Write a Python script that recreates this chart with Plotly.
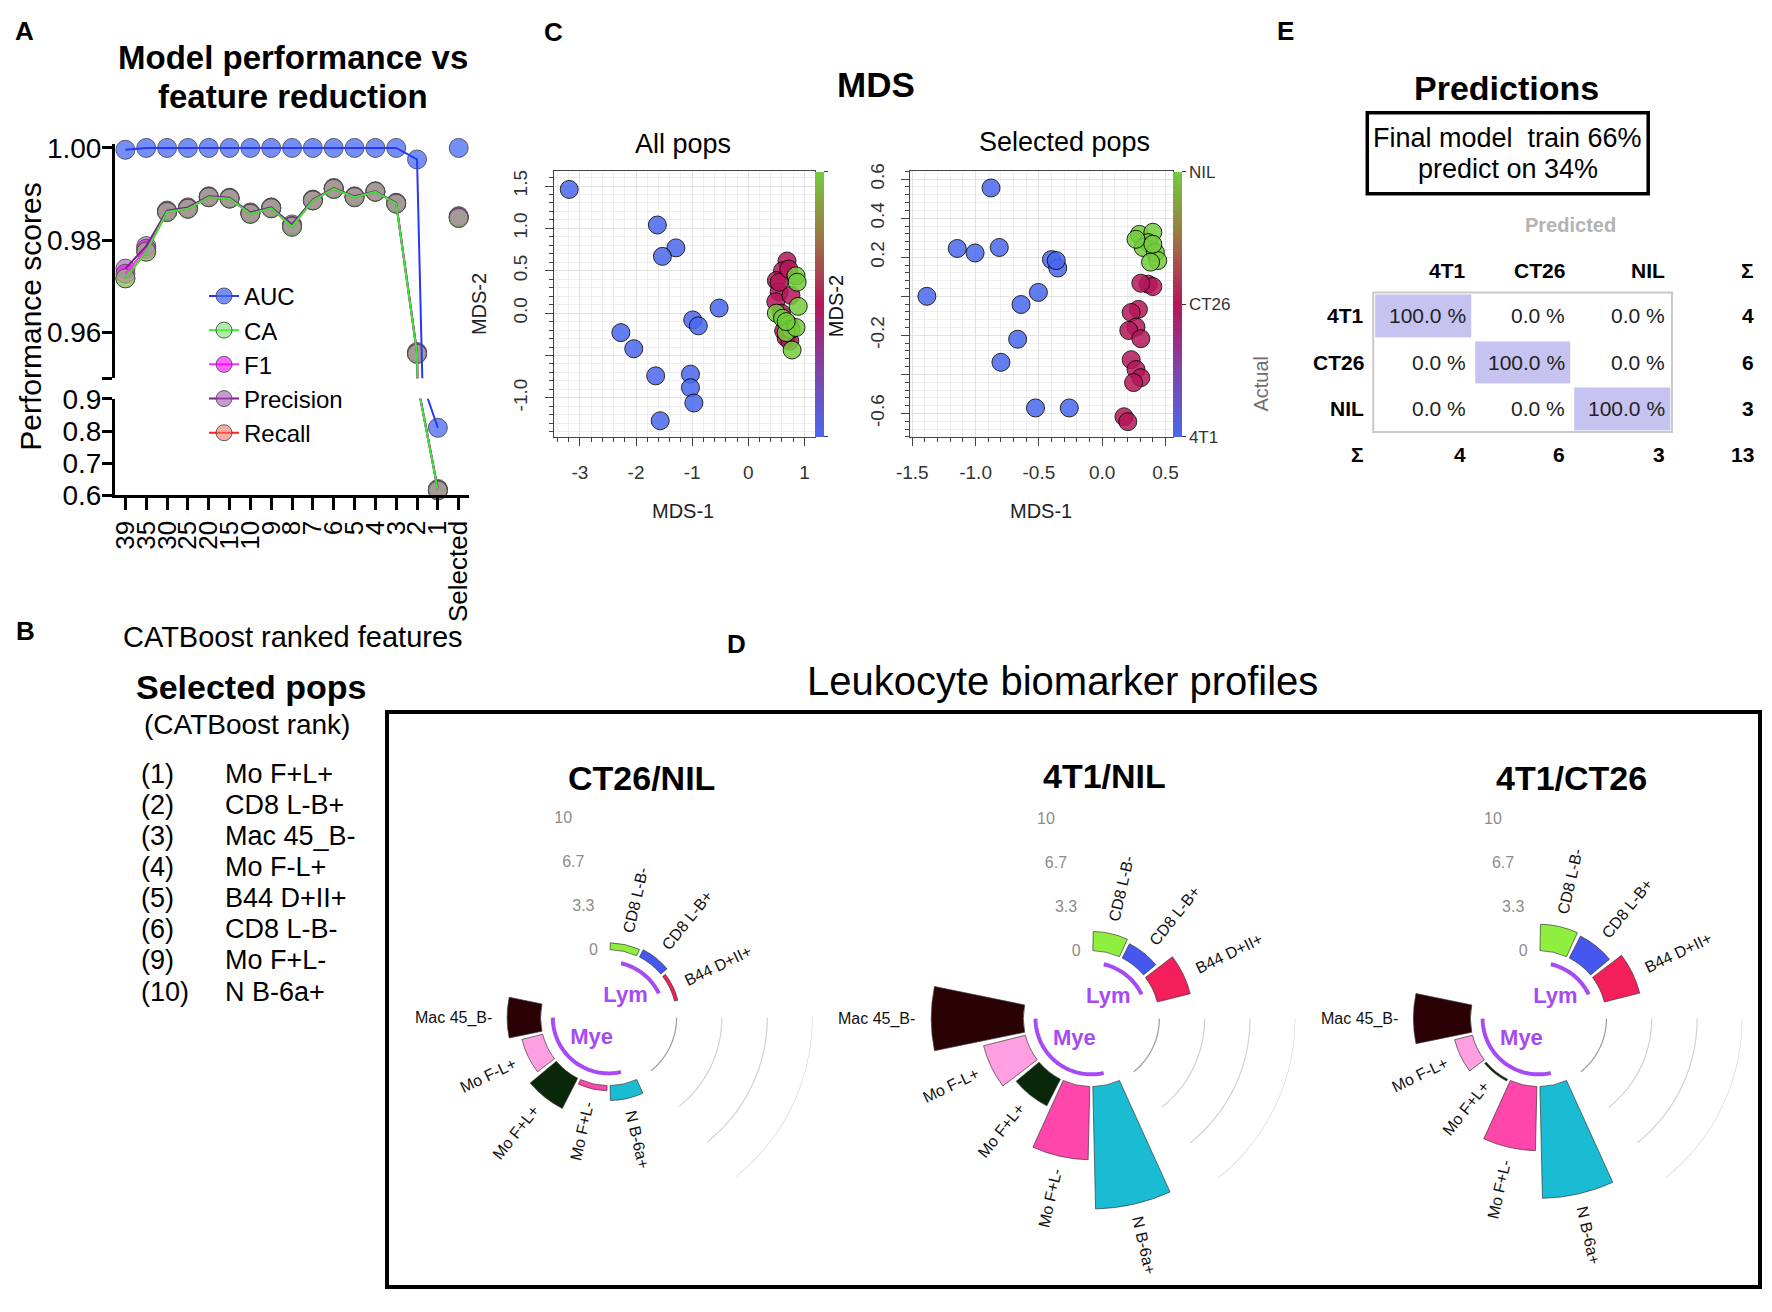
import numpy as np
import plotly.graph_objects as go

# The browser adds an 8px body margin to the 1772x1312 page, so the figure is 16px smaller
# and reference pixel coordinates are shifted by that margin.
REF_W, REF_H = 1772, 1312
OFF = 8
FW, FH = REF_W - 2 * OFF, REF_H - 2 * OFF
FONT = "Liberation Sans, Arial, Helvetica, sans-serif"


def fx(x):
    return (x - OFF) / FW


def fy(y):
    return 1 - (y - OFF) / FH


# ---------------- Panel A data ----------------
feature_counts = ["39", "35", "30", "25", "20", "15", "10", "9", "8", "7", "6", "5", "4", "3", "2", "1", "Selected"]
auc = [0.9996, 1.0, 1.0, 1.0, 1.0, 1.0, 1.0, 1.0, 1.0, 1.0, 1.0, 1.0, 1.0, 1.0, 0.9975, 0.810, 1.0]
ca = [0.9717, 0.9775, 0.9861, 0.9868, 0.9893, 0.9890, 0.9857, 0.9869, 0.9829, 0.9886, 0.9911, 0.9893, 0.9905, 0.9879, 0.9553, 0.6155, 0.9848]
f1 = [0.9727, 0.9781, 0.9862, 0.9869, 0.9894, 0.9891, 0.9858, 0.9870, 0.9831, 0.9887, 0.9912, 0.9894, 0.9905, 0.9880, 0.9555, 0.6170, 0.9850]
precision = [0.9738, 0.9787, 0.9864, 0.9871, 0.9895, 0.9892, 0.9860, 0.9871, 0.9834, 0.9888, 0.9913, 0.9895, 0.9906, 0.9881, 0.9557, 0.6200, 0.9852]
recall = [0.9717, 0.9775, 0.9861, 0.9868, 0.9893, 0.9890, 0.9857, 0.9869, 0.9829, 0.9886, 0.9911, 0.9893, 0.9905, 0.9879, 0.9553, 0.6155, 0.9848]
upper_ticks = [0.95, 0.96, 0.98, 1.00]
upper_ticklabels = ["", "0.96", "0.98", "1.00"]
lower_ticks = [0.6, 0.7, 0.8, 0.9]
lower_ticklabels = ["0.6", "0.7", "0.8", "0.9"]

# ---------------- Panel B data ----------------
catboost_ranks = ["(1)", "(2)", "(3)", "(4)", "(5)", "(6)", "(9)", "(10)"]
catboost_pops = ["Mo F+L+", "CD8 L-B+", "Mac 45_B-", "Mo F-L+", "B44 D+II+", "CD8 L-B-", "Mo F+L-", "N B-6a+"]

# ---------------- Panel C data ----------------
all_4t1_x = [-3.19, -1.62, -1.29, -1.53, -0.52, -0.99, -0.89, -2.27, -2.04, -1.65, -1.03, -1.03, -0.97, -1.57]
all_4t1_y = [1.46, 1.04, 0.77, 0.67, 0.06, -0.08, -0.15, -0.23, -0.42, -0.74, -0.72, -0.88, -1.06, -1.27]
all_ct26_x = [0.69, 0.61, 0.50, 0.55, 0.49, 0.59, 0.63, 0.675, 0.74, 0.55, 0.72, 0.76]
all_ct26_y = [0.615, 0.50, 0.385, 0.25, 0.135, 0.0, -0.21, -0.29, -0.33, 0.365, 0.52, 0.21]
all_nil_x = [0.85, 0.87, 0.89, 0.50, 0.61, 0.72, 0.76, 0.675, 0.85, 0.78, 0.675]
all_nil_y = [0.44, 0.365, 0.08, 0.0, -0.06, -0.135, -0.19, -0.23, -0.17, -0.435, -0.10]
sel_4t1_x = [-0.878, -1.145, -1.004, -0.813, -0.401, -0.351, -0.363, -1.385, -0.504, -0.641, -0.668, -0.80, -0.527, -0.26]
sel_4t1_y = [0.555, 0.245, 0.222, 0.25, 0.188, 0.145, 0.183, 0.0, 0.02, -0.042, -0.22, -0.338, -0.572, -0.572]
sel_ct26_x = [0.363, 0.40, 0.305, 0.286, 0.229, 0.267, 0.21, 0.305, 0.229, 0.267, 0.305, 0.248, 0.172, 0.202]
sel_ct26_y = [0.062, 0.05, 0.067, -0.067, -0.083, -0.158, -0.175, -0.217, -0.325, -0.375, -0.417, -0.442, -0.617, -0.642]
sel_nil_x = [0.294, 0.40, 0.363, 0.324, 0.42, 0.439, 0.382, 0.267, 0.40]
sel_nil_y = [0.317, 0.328, 0.275, 0.25, 0.225, 0.183, 0.175, 0.292, 0.267]
mds_groups = ["4T1", "CT26", "NIL"]
mds_group_level = [0.0, 0.5, 1.0]

# ---------------- Panel D data ----------------
pops = ["CD8 L-B-", "CD8 L-B+", "B44 D+II+", "N B-6a+", "Mo F+L-", "Mo F+L+", "Mo F-L+", "Mac 45_B-"]
pop_group = ["Lym", "Lym", "Lym", "Mye", "Mye", "Mye", "Mye", "Mye"]
ct26_vs_nil = [0.50, 0.60, 0.25, 1.10, 0.38, 2.50, 1.57, 2.46]
t1_vs_nil = [1.41, 1.18, 2.50, 9.00, 5.38, 2.20, 3.17, 6.77]
t1_vs_ct26 = [1.94, 1.81, 2.68, 8.22, 4.71, 0.15, 1.35, 4.19]
profile_titles = ["CT26/NIL", "4T1/NIL", "4T1/CT26"]
radial_ticks = [0, 3.33, 6.67, 10]
radial_ticklabels = ["0", "3.3", "6.7", "10"]

# ---------------- Panel E data ----------------
classes = ["4T1", "CT26", "NIL"]
conf_pct = [[100.0, 0.0, 0.0], [0.0, 100.0, 0.0], [0.0, 0.0, 100.0]]
actual_totals = [4, 6, 3]
predicted_totals = [4, 6, 3]
grand_total = 13

# ================= styles =================
metric_vals = {"AUC": auc, "CA": ca, "F1": f1, "Precision": precision, "Recall": recall}
metric_fill = {"AUC": "rgba(72,105,245,0.75)", "CA": "rgba(120,225,100,0.6)", "F1": "rgba(255,0,255,0.6)",
               "Precision": "rgba(165,85,180,0.6)", "Recall": "rgba(245,120,105,0.6)"}
metric_line = {"AUC": "#2639f5", "CA": "#3de63b", "F1": "#ff2bff", "Precision": "#7d1f8c", "Recall": "#ff2020"}
pop_colors = ["#8fef3e", "#4557ef", "#f21f5b", "#19bcd3", "#ff46aa", "#092809", "#ff9fe2", "#2a0205"]
mds_colorscale = [[0.0, "#4a68ee"], [0.25, "#7e45a8"], [0.5, "#b5175a"], [0.75, "#9c7544"], [1.0, "#74cc3c"]]
GROUP_PURPLE = "#a64bf4"

fig = go.Figure()
ann = []
shapes = []


def label(x, y, s, size, bold=False, color="black", xanchor="center", yanchor="middle", angle=0):
    ann.append(dict(x=fx(x), y=fy(y), xref="paper", yref="paper", text=f"<b>{s}</b>" if bold else s,
                    showarrow=False, font=dict(size=size, color=color, family=FONT),
                    xanchor=xanchor, yanchor=yanchor, textangle=angle))


# ================= Panel A =================
segments = [("x", "y", 0.95, 1.01), ("x2", "y2", 0.55, 0.9)]
marker_order = ["Recall", "Precision", "F1", "CA", "AUC"]
line_order = ["Recall", "F1", "Precision", "CA", "AUC"]
for xa, ya, lo, hi in segments:
    for m in marker_order:
        vals = metric_vals[m]
        xs = [c for c, v in zip(feature_counts, vals) if lo <= v <= hi]
        ys = [v for v in vals if lo <= v <= hi]
        fig.add_trace(go.Scatter(x=xs, y=ys, xaxis=xa, yaxis=ya, mode="markers", cliponaxis=False,
                                 showlegend=False, hoverinfo="skip",
                                 marker=dict(size=19, color=metric_fill[m],
                                             line=dict(color="rgba(70,70,70,0.85)", width=1))))
    for m in line_order:
        vals = metric_vals[m]
        fig.add_trace(go.Scatter(x=feature_counts[:-1], y=vals[:-1], xaxis=xa, yaxis=ya, mode="lines",
                                 showlegend=False, hoverinfo="skip",
                                 line=dict(color=metric_line[m], width=2)))
for m in ["AUC", "CA", "F1", "Precision", "Recall"]:
    fig.add_trace(go.Scatter(x=[None], y=[None], xaxis="x2", yaxis="y2", mode="lines+markers", name=m,
                             marker=dict(size=19, color=metric_fill[m], line=dict(color="rgba(70,70,70,0.85)", width=1)),
                             line=dict(color=metric_line[m], width=2)))

A_x = [fx(102), fx(460)]
up_px_per = (372 - 136) / 0.05
up_top = 1.0008
axis_common = dict(showline=True, linewidth=3, linecolor="black", ticks="outside", ticklen=10, tickwidth=3,
                   tickcolor="black", showgrid=False, zeroline=False, ticklabelstandoff=-5,
                   tickfont=dict(size=28, color="black", family=FONT))
layout_axes = {}
layout_axes["xaxis"] = dict(domain=A_x, anchor="y", type="category", categoryorder="array",
                            categoryarray=feature_counts, range=[-0.5, 16.5], visible=False)
layout_axes["yaxis"] = dict(domain=[fy(372), fy(136 - (up_top - 1.0) * up_px_per)], anchor="x",
                            range=[0.95, up_top], tickmode="array", tickvals=upper_ticks,
                            ticktext=upper_ticklabels, **axis_common)
layout_axes["xaxis2"] = dict(domain=A_x, anchor="y2", type="category", categoryorder="array",
                             categoryarray=feature_counts, range=[-0.5, 16.5], tickangle=-90,
                             tickmode="array", tickvals=feature_counts, ticktext=feature_counts,
                             **{**axis_common, "ticklen": 12, "ticklabelstandoff": 0,
                                "tickfont": dict(size=26, color="black", family=FONT)})
layout_axes["yaxis2"] = dict(domain=[fy(492), fy(393)], anchor="x2", range=[0.6, 0.9], tickmode="array",
                             tickvals=lower_ticks, ticktext=lower_ticklabels, **axis_common)

label(11, 16, "A", 26, bold=True)
label(282, 43, "Model performance vs", 33, bold=True)
label(282, 83, "feature reduction", 33, bold=True)
label(17, 309, "Performance scores", 30, angle=-90)

# ================= Panel B =================
label(12, 631, "B", 26, bold=True)
label(282, 637, "CATBoost ranked features", 29)
label(240, 688, "Selected pops", 34, bold=True)
label(235, 727, "(CATBoost rank)", 28)
for i, (rk, nm) in enumerate(zip(catboost_ranks, catboost_pops)):
    yy = 777 + i * 31.9
    label(126, yy, rk, 27, xanchor="left")
    label(211, yy, nm, 27, xanchor="left")

# ================= Panel C =================
label(545, 17, "C", 26, bold=True)
label(871, 71, "MDS", 35, bold=True)
label(676, 132, "All pops", 27)
label(1062, 130, "Selected pops", 27)


def mds_trace(xlists, ylists, xa, ya, cb):
    xs, ys, cs = [], [], []
    for xl, yl, lev in zip(xlists, ylists, mds_group_level):
        xs += xl
        ys += yl
        cs += [lev] * len(xl)
    return go.Scatter(x=xs, y=ys, xaxis=xa, yaxis=ya, mode="markers", showlegend=False, hoverinfo="skip",
                      marker=dict(size=18, color=cs, colorscale=mds_colorscale, cmin=0, cmax=1, opacity=0.85,
                                  line=dict(color="black", width=1), showscale=True, colorbar=cb))


cb_common = dict(y=fy(296), yanchor="middle", len=272 / FH, lenmode="fraction", thickness=9, xpad=0, ypad=0,
                 outlinewidth=0, ticks="outside", ticklen=4, tickcolor="#333", tickmode="array",
                 tickfont=dict(size=17, color="#333", family=FONT))
fig.add_trace(mds_trace([all_4t1_x, all_ct26_x, all_nil_x], [all_4t1_y, all_ct26_y, all_nil_y], "x3", "y3",
                        dict(x=fx(810), xanchor="left", tickvals=[0, 1], showticklabels=False, **cb_common)))
fig.add_trace(mds_trace([sel_4t1_x, sel_ct26_x, sel_nil_x], [sel_4t1_y, sel_ct26_y, sel_nil_y], "x4", "y4",
                        dict(x=fx(1172), xanchor="left", tickvals=mds_group_level, ticktext=mds_groups, **cb_common)))

mds_axis = dict(showline=True, mirror=True, linewidth=1.2, linecolor="#444", ticks="outside", ticklen=8,
                tickwidth=1, tickcolor="#444", showgrid=True, gridcolor="#e2e2e2", gridwidth=1, zeroline=False,
                tickfont=dict(size=19, color="#333", family=FONT), ticklabelstandoff=10)
minor_x = dict(ticks="outside", ticklen=4, tickcolor="#444", showgrid=True, gridcolor="#eeeeee", tick0=0)
layout_axes["xaxis3"] = dict(domain=[fx(546), fx(810)], anchor="y3", range=[-3.458, 1.194], tickmode="array",
                             tickvals=[-3, -2, -1, 0, 1], ticktext=["-3", "-2", "-1", "0", "1"],
                             minor=dict(dtick=0.2, **minor_x), **mds_axis)
layout_axes["yaxis3"] = dict(domain=[fy(432), fy(160)], anchor="x3", range=[-1.46, 1.673], tickmode="array",
                             tickvals=[-1.0, -0.5, 0.0, 0.5, 1.0, 1.5], ticktext=["-1.0", "", "0.0", "0.5", "1.0", "1.5"],
                             tickangle=-90, minor=dict(dtick=0.1, **minor_x), **mds_axis)
layout_axes["xaxis4"] = dict(domain=[fx(906), fx(1172)], anchor="y4", range=[-1.516, 0.5625], tickmode="array",
                             tickvals=[-1.5, -1.0, -0.5, 0.0, 0.5], ticktext=["-1.5", "-1.0", "-0.5", "0.0", "0.5"],
                             minor=dict(dtick=0.1, **minor_x), **mds_axis)
layout_axes["yaxis4"] = dict(domain=[fy(432), fy(160)], anchor="x4", range=[-0.72, 0.64], tickmode="array",
                             tickvals=[-0.6, -0.4, -0.2, 0.0, 0.2, 0.4, 0.6],
                             ticktext=["-0.6", "", "-0.2", "", "0.2", "0.4", "0.6"], tickangle=-90,
                             minor=dict(dtick=0.04, **minor_x), **mds_axis)
label(676, 508, "MDS-1", 20, color="#222")
label(1038, 508, "MDS-1", 20, color="#222")
label(470, 296, "MDS-2", 20, color="#222", angle=-90)
label(831, 298, "MDS-2", 20, color="#111", angle=-90)

# ================= Panel D =================
label(730, 644, "D", 26, bold=True)
label(1060, 682, "Leukocyte biomarker profiles", 40)
shapes.append(dict(type="rect", xref="paper", yref="paper", x0=fx(377), x1=fx(1765), y0=fy(1303), y1=fy(714),
                   line=dict(color="black", width=4)))

n_empty = 3
slots = []
idx = 0
for g in ["Lym", "Mye"]:
    for p, pg in zip(pops, pop_group):
        if pg == g:
            slots.append(idx)
            idx += 1
    idx += n_empty
n_slots = idx
step = 360 / n_slots


def slot_theta(s):
    return 90 - step * (s + 0.5)


thetas = [slot_theta(s) for s in slots]
gap_start = slot_theta(3)
gap_end = slot_theta(5)
radlab_theta = slot_theta(n_slots - 1)

R = 209
RMIN, RMAX = -5, 10
centers = [(601, 1027), (1089, 1028), (1541, 1028)]
title_pos = [(634, 781), (1102, 779), (1574, 781)]
profiles = [ct26_vs_nil, t1_vs_nil, t1_vs_ct26]

CW = {' ': .278, '+': .584, '-': .333, '_': .556, 'B': .667, 'C': .722, 'D': .722, 'F': .611, 'I': .278,
      'L': .556, 'M': .833, 'N': .722, 'a': .556, 'c': .5, 'o': .556}


def tw(s, size):
    return sum(CW.get(ch, .556) for ch in s) * size


polar_layouts = {}
for k, (vals, ttl, (cx, cy), (tx, ty)) in enumerate(zip(profiles, profile_titles, centers, title_pos)):
    sub = "polar" if k == 0 else f"polar{k + 1}"
    arc_t = np.linspace(gap_start, gap_end, 60)
    for j, rt in enumerate(radial_ticks):
        fig.add_trace(go.Scatterpolar(r=[rt] * len(arc_t), theta=arc_t, mode="lines", subplot=sub, showlegend=False,
                                      hoverinfo="skip",
                                      line=dict(color="#9d9d9d" if j == 0 else "#d2d2d2", width=1.2)))
    fig.add_trace(go.Barpolar(r=vals, theta=thetas, base=0, width=step * 0.9, subplot=sub, showlegend=False,
                              hoverinfo="skip",
                              marker=dict(color=pop_colors, line=dict(color="#3a3a3a", width=0.7))))
    fig.add_trace(go.Scatterpolar(r=radial_ticks, theta=[radlab_theta] * len(radial_ticks), mode="text",
                                  text=radial_ticklabels, subplot=sub, showlegend=False, cliponaxis=False,
                                  hoverinfo="skip", textfont=dict(size=16, color="#8c8c8c", family=FONT)))
    for g in ["Lym", "Mye"]:
        gt = [t for t, pg in zip(thetas, pop_group) if pg == g]
        t0, t1 = gt[0], gt[-1]
        at = np.linspace(t0, t1, 50)
        fig.add_trace(go.Scatterpolar(r=[-0.9] * len(at), theta=at, mode="lines", subplot=sub, showlegend=False,
                                      hoverinfo="skip", line=dict(color=GROUP_PURPLE, width=4)))
        fig.add_trace(go.Scatterpolar(r=[-3.0], theta=[(t0 + t1) / 2], mode="text", text=[f"<b>{g}</b>"],
                                      subplot=sub, showlegend=False, hoverinfo="skip", cliponaxis=False,
                                      textfont=dict(size=22, color=GROUP_PURPLE, family=FONT)))
    polar_layouts[sub] = dict(domain=dict(x=[fx(cx - R), fx(cx + R)], y=[fy(cy + R), fy(cy - R)]),
                              bgcolor="rgba(0,0,0,0)", hole=0,
                              radialaxis=dict(visible=False, range=[RMIN, RMAX]),
                              angularaxis=dict(visible=False, direction="counterclockwise", rotation=0))
    label(tx, ty, ttl, 34, bold=True)
    for p, v, th in zip(pops, vals, thetas):
        r_out = (v - RMIN) / (RMAX - RMIN) * R
        d = r_out + 14 + tw(p, 16) / 2
        t = np.radians(th)
        lx = cx + d * np.cos(t)
        ly = cy - d * np.sin(t)
        ang = -th if -90 < th < 90 else -(th + 180)
        label(lx, ly, p, 16, color="#111", angle=ang)

# ================= Panel E =================
label(1285, 16, "E", 26, bold=True)
label(1509, 75, "Predictions", 34, bold=True)
shapes.append(dict(type="rect", xref="paper", yref="paper", x0=fx(1368), x1=fx(1652), y0=fy(183), y1=fy(100),
                   line=dict(color="black", width=3.5)))
label(1510, 126, "Final model\u00a0 train 66%", 27)
label(1510, 158, "predict on 34%", 27)

tbl_x0, tbl_x1, tbl_y0, tbl_y1 = 1374, 1676, 284, 427
col_w = (tbl_x1 - tbl_x0) / 3
row_h = (tbl_y1 - tbl_y0) / 3
fig.add_trace(go.Heatmap(z=conf_pct, x=classes, y=classes, xaxis="x5", yaxis="y5", zmin=0, zmax=100,
                         colorscale=[[0, "#ffffff"], [1, "#c6c3f1"]], showscale=False, xgap=4, ygap=4,
                         hoverinfo="skip"))
layout_axes["xaxis5"] = dict(domain=[fx(tbl_x0), fx(tbl_x1)], anchor="y5", visible=False, type="category",
                             range=[-0.5, 2.5])
layout_axes["yaxis5"] = dict(domain=[fy(tbl_y1), fy(tbl_y0)], anchor="x5", visible=False, type="category",
                             range=[2.5, -0.5])
shapes.append(dict(type="rect", xref="paper", yref="paper", x0=fx(tbl_x0), x1=fx(tbl_x1), y0=fy(tbl_y1),
                   y1=fy(tbl_y0), line=dict(color="#c9c9c9", width=2)))
label(1573, 215, "Predicted", 20, bold=True, color="#b3b3b3")
label(1261, 377, "Actual", 20, color="#6e6e6e", angle=-90)
sum_x = 1761
head_y = 262
sum_y = 450
for j, c in enumerate(classes):
    xr = tbl_x0 + (j + 1) * col_w - 5
    label(xr, head_y, c, 21, bold=True, xanchor="right")
    label(xr, sum_y, str(predicted_totals[j]), 21, bold=True, xanchor="right")
for i, c in enumerate(classes):
    yc = tbl_y0 + (i + 0.5) * row_h
    label(1367, yc, c, 21, bold=True, xanchor="right")
    label(sum_x, yc, str(actual_totals[i]), 21, bold=True, xanchor="right")
    for j in range(3):
        xr = tbl_x0 + (j + 1) * col_w - 5
        label(xr, yc, f"{conf_pct[i][j]:.1f} %", 21, color="#222", xanchor="right")
label(sum_x, head_y, "\u03a3", 21, bold=True, xanchor="right")
label(1367, sum_y, "\u03a3", 21, bold=True, xanchor="right")
label(sum_x, sum_y, str(grand_total), 21, bold=True, xanchor="right")

fig.update_layout(
    width=FW, height=FH, autosize=False, margin=dict(l=0, r=0, t=0, b=0),
    paper_bgcolor="white", plot_bgcolor="white",
    font=dict(family=FONT, color="black"),
    showlegend=True,
    legend=dict(x=fx(192), y=fy(265), xanchor="left", yanchor="top", bgcolor="rgba(0,0,0,0)",
                font=dict(size=24, family=FONT, color="black"), tracegroupgap=0, itemwidth=30),
    annotations=ann, shapes=shapes,
    **layout_axes, **polar_layouts,
)

fig.write_html("out.html", config={"displayModeBar": False})
